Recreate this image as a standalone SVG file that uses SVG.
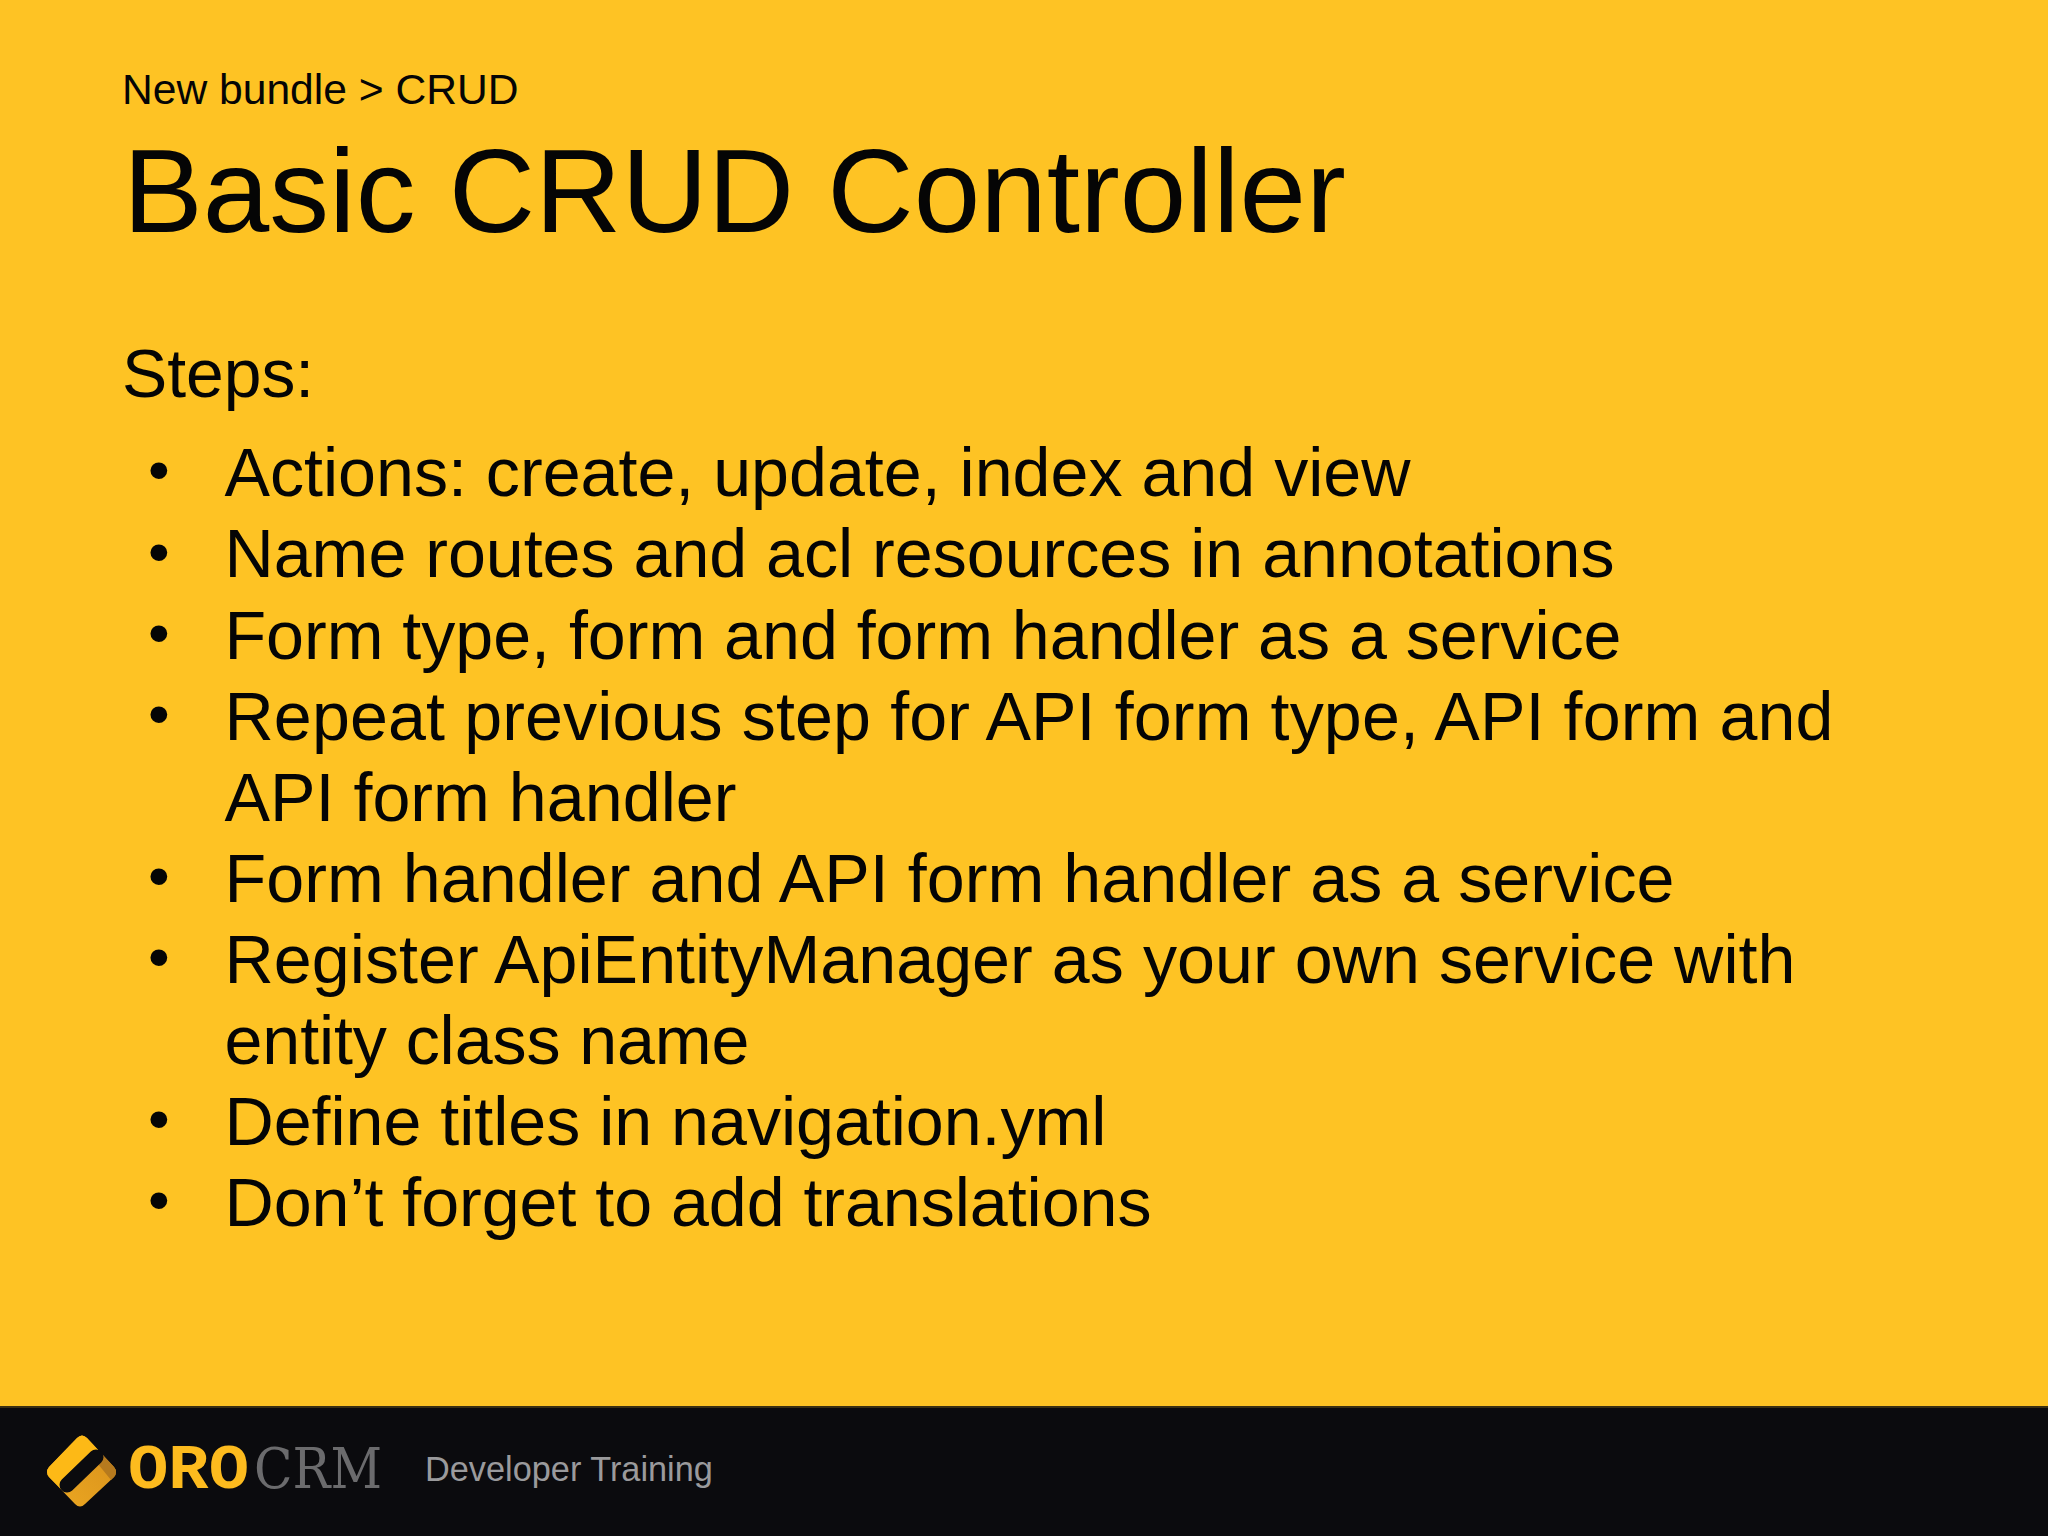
<svg xmlns="http://www.w3.org/2000/svg" width="2048" height="1536" viewBox="0 0 2048 1536">
<style>
text{font-family:"Liberation Sans",Arial,sans-serif;fill:#050505}
.b{font-size:68.2px}
.d{font-size:62px}
.oro{font-family:"Liberation Mono",monospace;font-size:63px;font-weight:bold;fill:#fdbb1e}
.crm{font-family:"DejaVu Serif","Liberation Serif",serif;font-size:56px;fill:#6b6b6d}
</style>
<defs>
<linearGradient id="lg" x1="0" y1="1" x2="1" y2="0"><stop offset="0" stop-color="#eca822"/><stop offset="1" stop-color="#d8901b"/></linearGradient>
</defs>
<rect width="2048" height="1536" fill="#fec324"/>
<g id="header">
<text x="122" y="104" font-size="42.6">New bundle &gt; CRUD</text>
<text x="123" y="231.5" font-size="119.6">Basic CRUD Controller</text>
</g>
<g id="body">
<text x="122" y="397" font-size="67.8">Steps:</text>
<text class="d" x="148" y="491">•</text><text class="b" x="224.5" y="495.5" textLength="1186">Actions: create, update, index and view</text>
<text class="d" x="148" y="573">•</text><text class="b" x="224.5" y="577" textLength="1390">Name routes and acl resources in annotations</text>
<text class="d" x="148" y="654">•</text><text class="b" x="224.5" y="658.5" textLength="1397">Form type, form and form handler as a service</text>
<text class="d" x="148" y="735">•</text><text class="b" x="224.5" y="739.5" textLength="1609">Repeat previous step for API form type, API form and</text>
<text class="b" x="224.5" y="821" textLength="512">API form handler</text>
<text class="d" x="148" y="897">•</text><text class="b" x="224.5" y="902" textLength="1450">Form handler and API form handler as a service</text>
<text class="d" x="148" y="978">•</text><text class="b" x="224.5" y="983" textLength="1571">Register ApiEntityManager as your own service with</text>
<text class="b" x="224.5" y="1064" textLength="525">entity class name</text>
<text class="d" x="148" y="1140">•</text><text class="b" x="224.5" y="1145" textLength="882">Define titles in navigation.yml</text>
<text class="d" x="148" y="1221">•</text><text class="b" x="224.5" y="1226" textLength="927">Don’t forget to add translations</text>
</g>
<g id="footer">
<rect y="1407" width="2048" height="129" fill="#0b0b0e"/>
<rect y="1406" width="2048" height="2" fill="#3a2f12"/>
<g id="logo-mark">
<path d="M77 1438Q82 1433 87 1438L114 1467Q118 1472 114 1477L85 1504Q80 1509 75 1504L49 1477Q45 1472 49 1467Z" fill="url(#lg)"/>
<path d="M77 1438Q82 1433 87 1438L101 1453L63 1491L49 1477Q45 1472 49 1467Z" fill="#fdb916"/>
<path d="M101 1453L114 1467Q118 1472 114 1477L111 1480L98 1464Z" fill="#b67a1e"/>
<line x1="67" y1="1485" x2="96" y2="1457" stroke="#0b0b0e" stroke-width="15" stroke-linecap="round"/>
</g>
<text class="oro" x="128" y="1488" textLength="121" lengthAdjust="spacingAndGlyphs">ORO</text>
<text class="crm" x="254" y="1488" textLength="128" lengthAdjust="spacingAndGlyphs">CRM</text>
<text x="425" y="1481" font-size="34.3" style="fill:#9a9a9c">Developer Training</text>
</g>
</svg>
